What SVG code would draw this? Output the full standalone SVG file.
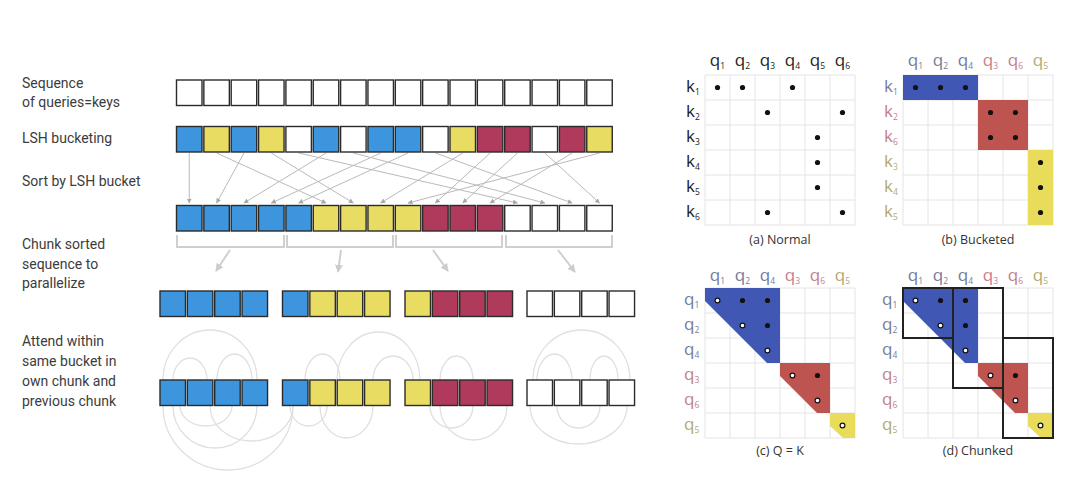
<svg xmlns="http://www.w3.org/2000/svg" width="1080" height="487" viewBox="0 0 1080 487">
<defs>
<style>
.lbl{font-family:Roboto,"Liberation Sans",sans-serif;font-size:14px;fill:#3c3c3c}
.c{stroke:#2b2b2b;stroke-width:1.4}
.B{fill:#3d96dd}.Y{fill:#e8dc62}.R{fill:#b03a5b}.W{fill:#ffffff}
.ln{stroke:#bababa;stroke-width:1;fill:none}
.br{stroke:#cfcfcf;stroke-width:2;fill:none}
.arc{stroke:#e0e0e0;stroke-width:1.3;fill:none}
.grid{stroke:#e4e4e4;stroke-width:1;fill:none}
.mt{font-family:"Open Sans","Liberation Sans",sans-serif;font-size:17px}
.sub{font-size:8.5px}
.cap{font-family:"Open Sans","Liberation Sans",sans-serif;font-size:12.5px;fill:#333;text-anchor:middle}
.hd{text-anchor:middle}
.k{fill:#222}.kb{fill:#737c9a}.kr{fill:#c4808a}.ky{fill:#b3aa70}
.mB{fill:#4058b3}.mR{fill:#bd5450}.mY{fill:#e8dc5a}
.d{fill:#111}.h{fill:#fff;stroke:#111;stroke-width:1.2}
.box{fill:none;stroke:#222;stroke-width:2}
</style>
<marker id="ah" viewBox="0 0 10 10" refX="9" refY="5" markerWidth="5" markerHeight="5" markerUnits="userSpaceOnUse" orient="auto"><path d="M0,0 L10,5 L0,10 z" fill="#a8a8a8"/></marker>
<marker id="ah2" viewBox="0 0 10 10" refX="9" refY="5" markerWidth="8" markerHeight="8" markerUnits="userSpaceOnUse" orient="auto"><path d="M0,0 L10,5 L0,10 z" fill="#cccccc"/></marker>
</defs>
<rect width="1080" height="487" fill="#ffffff"/>

<g id="labels">
<text class="lbl" x="22" y="88">Sequence</text>
<text class="lbl" x="22" y="107">of queries=keys</text>
<text class="lbl" x="22" y="143">LSH bucketing</text>
<text class="lbl" x="22" y="186">Sort by LSH bucket</text>
<text class="lbl" x="22" y="249">Chunk sorted</text>
<text class="lbl" x="22" y="268.5">sequence to</text>
<text class="lbl" x="22" y="288">parallelize</text>
<text class="lbl" x="22" y="346">Attend within</text>
<text class="lbl" x="22" y="366">same bucket in</text>
<text class="lbl" x="22" y="386">own chunk and</text>
<text class="lbl" x="22" y="406">previous chunk</text>
</g>

<g id="connectors">
<g class="ln" marker-end="url(#ah)">
<line x1="189.25" y1="153" x2="189.25" y2="203"/>
<line x1="243.95" y1="153" x2="216.6" y2="203"/>
<line x1="326" y1="153" x2="243.95" y2="203"/>
<line x1="380.7" y1="153" x2="271.3" y2="203"/>
<line x1="408.05" y1="153" x2="298.65" y2="203"/>
<line x1="216.6" y1="153" x2="326" y2="203"/>
<line x1="271.3" y1="153" x2="353.35" y2="203"/>
<line x1="462.75" y1="153" x2="380.7" y2="203"/>
<line x1="599.5" y1="153" x2="408.05" y2="203"/>
<line x1="490.1" y1="153" x2="435.4" y2="203"/>
<line x1="517.45" y1="153" x2="462.75" y2="203"/>
<line x1="572.15" y1="153" x2="490.1" y2="203"/>
<line x1="298.65" y1="153" x2="517.45" y2="203"/>
<line x1="353.35" y1="153" x2="544.8" y2="203"/>
<line x1="435.4" y1="153" x2="572.15" y2="203"/>
<line x1="544.8" y1="153" x2="599.5" y2="203"/>
</g>
<g class="br">
<path d="M177,235 V247 H284 V235"/>
<path d="M287,235 V247 H393 V235"/>
<path d="M396,235 V247 H502 V235"/>
<path d="M506,235 V247 H612 V235"/>
</g>
<g class="br" marker-end="url(#ah2)">
<line x1="230" y1="250" x2="216" y2="271"/>
<line x1="341" y1="250" x2="338" y2="272"/>
<line x1="433" y1="250" x2="448" y2="271"/>
<line x1="558" y1="250" x2="575" y2="272"/>
</g>
<g class="arc">
<path d="M163,380 A47,50 0 0 1 257,380"/>
<path d="M173,380 A17,22 0 0 1 207,380"/>
<path d="M217,380 A17.5,26 0 0 1 252,380"/>
<path d="M337,380 A41.5,48 0 0 1 420,380"/>
<path d="M305,380 A17.5,26 0 0 1 340,380"/>
<path d="M373,380 A20,24 0 0 1 413,380"/>
<path d="M440,380 A16.5,24 0 0 1 473,380"/>
<path d="M533,380 A48.5,50 0 0 1 630,380"/>
<path d="M537,380 A17.5,26 0 0 1 572,380"/>
<path d="M590,380 A14,24 0 0 1 618,380"/>
<path d="M163,406 A65,64 0 0 0 293,406"/>
<path d="M173,406 A42,42 0 0 0 257,406"/>
<path d="M210,406 A41.5,35 0 0 0 293,406"/>
<path d="M180,406 A26,20 0 0 0 232,406"/>
<path d="M320,406 A26.5,32 0 0 0 373,406"/>
<path d="M290,406 A18.5,20 0 0 0 327,406"/>
<path d="M440,406 A33.5,34 0 0 0 507,406"/>
<path d="M430,406 A21.5,22 0 0 0 473,406"/>
<path d="M530,406 A48.5,38 0 0 0 627,406"/>
<path d="M557,406 A21.5,22 0 0 0 600,406"/>
</g>
</g>

<g id="row-sequence">
<rect class="c W" x="176.5" y="80" width="25.5" height="25.5"/>
<rect class="c W" x="203.85" y="80" width="25.5" height="25.5"/>
<rect class="c W" x="231.2" y="80" width="25.5" height="25.5"/>
<rect class="c W" x="258.55" y="80" width="25.5" height="25.5"/>
<rect class="c W" x="285.9" y="80" width="25.5" height="25.5"/>
<rect class="c W" x="313.25" y="80" width="25.5" height="25.5"/>
<rect class="c W" x="340.6" y="80" width="25.5" height="25.5"/>
<rect class="c W" x="367.95" y="80" width="25.5" height="25.5"/>
<rect class="c W" x="395.3" y="80" width="25.5" height="25.5"/>
<rect class="c W" x="422.65" y="80" width="25.5" height="25.5"/>
<rect class="c W" x="450" y="80" width="25.5" height="25.5"/>
<rect class="c W" x="477.35" y="80" width="25.5" height="25.5"/>
<rect class="c W" x="504.7" y="80" width="25.5" height="25.5"/>
<rect class="c W" x="532.05" y="80" width="25.5" height="25.5"/>
<rect class="c W" x="559.4" y="80" width="25.5" height="25.5"/>
<rect class="c W" x="586.75" y="80" width="25.5" height="25.5"/>
</g>

<g id="row-lsh">
<rect class="c B" x="176.5" y="126.5" width="25.5" height="25.5"/>
<rect class="c Y" x="203.85" y="126.5" width="25.5" height="25.5"/>
<rect class="c B" x="231.2" y="126.5" width="25.5" height="25.5"/>
<rect class="c Y" x="258.55" y="126.5" width="25.5" height="25.5"/>
<rect class="c W" x="285.9" y="126.5" width="25.5" height="25.5"/>
<rect class="c B" x="313.25" y="126.5" width="25.5" height="25.5"/>
<rect class="c W" x="340.6" y="126.5" width="25.5" height="25.5"/>
<rect class="c B" x="367.95" y="126.5" width="25.5" height="25.5"/>
<rect class="c B" x="395.3" y="126.5" width="25.5" height="25.5"/>
<rect class="c W" x="422.65" y="126.5" width="25.5" height="25.5"/>
<rect class="c Y" x="450" y="126.5" width="25.5" height="25.5"/>
<rect class="c R" x="477.35" y="126.5" width="25.5" height="25.5"/>
<rect class="c R" x="504.7" y="126.5" width="25.5" height="25.5"/>
<rect class="c W" x="532.05" y="126.5" width="25.5" height="25.5"/>
<rect class="c R" x="559.4" y="126.5" width="25.5" height="25.5"/>
<rect class="c Y" x="586.75" y="126.5" width="25.5" height="25.5"/>
</g>

<g id="row-sorted">
<rect class="c B" x="176.5" y="205.5" width="25.5" height="25.5"/>
<rect class="c B" x="203.85" y="205.5" width="25.5" height="25.5"/>
<rect class="c B" x="231.2" y="205.5" width="25.5" height="25.5"/>
<rect class="c B" x="258.55" y="205.5" width="25.5" height="25.5"/>
<rect class="c B" x="285.9" y="205.5" width="25.5" height="25.5"/>
<rect class="c Y" x="313.25" y="205.5" width="25.5" height="25.5"/>
<rect class="c Y" x="340.6" y="205.5" width="25.5" height="25.5"/>
<rect class="c Y" x="367.95" y="205.5" width="25.5" height="25.5"/>
<rect class="c Y" x="395.3" y="205.5" width="25.5" height="25.5"/>
<rect class="c R" x="422.65" y="205.5" width="25.5" height="25.5"/>
<rect class="c R" x="450" y="205.5" width="25.5" height="25.5"/>
<rect class="c R" x="477.35" y="205.5" width="25.5" height="25.5"/>
<rect class="c W" x="504.7" y="205.5" width="25.5" height="25.5"/>
<rect class="c W" x="532.05" y="205.5" width="25.5" height="25.5"/>
<rect class="c W" x="559.4" y="205.5" width="25.5" height="25.5"/>
<rect class="c W" x="586.75" y="205.5" width="25.5" height="25.5"/>
</g>

<g id="row-chunks">
<rect class="c B" x="160" y="291" width="25.5" height="25.5"/>
<rect class="c B" x="187.35" y="291" width="25.5" height="25.5"/>
<rect class="c B" x="214.7" y="291" width="25.5" height="25.5"/>
<rect class="c B" x="242.05" y="291" width="25.5" height="25.5"/>
<rect class="c B" x="282.5" y="291" width="25.5" height="25.5"/>
<rect class="c Y" x="309.85" y="291" width="25.5" height="25.5"/>
<rect class="c Y" x="337.2" y="291" width="25.5" height="25.5"/>
<rect class="c Y" x="364.55" y="291" width="25.5" height="25.5"/>
<rect class="c Y" x="405" y="291" width="25.5" height="25.5"/>
<rect class="c R" x="432.35" y="291" width="25.5" height="25.5"/>
<rect class="c R" x="459.7" y="291" width="25.5" height="25.5"/>
<rect class="c R" x="487.05" y="291" width="25.5" height="25.5"/>
<rect class="c W" x="527" y="291" width="25.5" height="25.5"/>
<rect class="c W" x="554.35" y="291" width="25.5" height="25.5"/>
<rect class="c W" x="581.7" y="291" width="25.5" height="25.5"/>
<rect class="c W" x="609.05" y="291" width="25.5" height="25.5"/>
</g>

<g id="row-attend">
<rect class="c B" x="160" y="380" width="25.5" height="25.5"/>
<rect class="c B" x="187.35" y="380" width="25.5" height="25.5"/>
<rect class="c B" x="214.7" y="380" width="25.5" height="25.5"/>
<rect class="c B" x="242.05" y="380" width="25.5" height="25.5"/>
<rect class="c B" x="282.5" y="380" width="25.5" height="25.5"/>
<rect class="c Y" x="309.85" y="380" width="25.5" height="25.5"/>
<rect class="c Y" x="337.2" y="380" width="25.5" height="25.5"/>
<rect class="c Y" x="364.55" y="380" width="25.5" height="25.5"/>
<rect class="c Y" x="405" y="380" width="25.5" height="25.5"/>
<rect class="c R" x="432.35" y="380" width="25.5" height="25.5"/>
<rect class="c R" x="459.7" y="380" width="25.5" height="25.5"/>
<rect class="c R" x="487.05" y="380" width="25.5" height="25.5"/>
<rect class="c W" x="527" y="380" width="25.5" height="25.5"/>
<rect class="c W" x="554.35" y="380" width="25.5" height="25.5"/>
<rect class="c W" x="581.7" y="380" width="25.5" height="25.5"/>
<rect class="c W" x="609.05" y="380" width="25.5" height="25.5"/>
</g>

<g id="matrix-a">
<path class="grid" d="M705,75 V225 M730,75 V225 M755,75 V225 M780,75 V225 M805,75 V225 M830,75 V225 M855,75 V225 M705,75 H855 M705,100 H855 M705,125 H855 M705,150 H855 M705,175 H855 M705,200 H855 M705,225 H855"/>
<g class="mt k">
<text class="hd" x="717.5" y="66">q<tspan class="sub" dy="3">1</tspan></text>
<text class="hd" x="742.5" y="66">q<tspan class="sub" dy="3">2</tspan></text>
<text class="hd" x="767.5" y="66">q<tspan class="sub" dy="3">3</tspan></text>
<text class="hd" x="792.5" y="66">q<tspan class="sub" dy="3">4</tspan></text>
<text class="hd" x="817.5" y="66">q<tspan class="sub" dy="3">5</tspan></text>
<text class="hd" x="842.5" y="66">q<tspan class="sub" dy="3">6</tspan></text>
<text x="686" y="92">k<tspan class="sub" dy="3">1</tspan></text>
<text x="686" y="117">k<tspan class="sub" dy="3">2</tspan></text>
<text x="686" y="142">k<tspan class="sub" dy="3">3</tspan></text>
<text x="686" y="167">k<tspan class="sub" dy="3">4</tspan></text>
<text x="686" y="192">k<tspan class="sub" dy="3">5</tspan></text>
<text x="686" y="217">k<tspan class="sub" dy="3">6</tspan></text>
</g>
<g class="d">
<circle cx="717.5" cy="87.5" r="2.6"/><circle cx="742.5" cy="87.5" r="2.6"/><circle cx="792.5" cy="87.5" r="2.6"/>
<circle cx="767.5" cy="112.5" r="2.6"/><circle cx="842.5" cy="112.5" r="2.6"/>
<circle cx="817.5" cy="137.5" r="2.6"/><circle cx="817.5" cy="162.5" r="2.6"/><circle cx="817.5" cy="187.5" r="2.6"/>
<circle cx="767.5" cy="212.5" r="2.6"/><circle cx="842.5" cy="212.5" r="2.6"/>
</g>
<text class="cap" x="780" y="244">(a) Normal</text>
</g>

<g id="matrix-b">
<path class="grid" d="M903,75 V225 M928,75 V225 M953,75 V225 M978,75 V225 M1003,75 V225 M1028,75 V225 M1053,75 V225 M903,75 H1053 M903,100 H1053 M903,125 H1053 M903,150 H1053 M903,175 H1053 M903,200 H1053 M903,225 H1053"/>
<rect class="mB" x="903" y="75" width="75" height="25"/>
<rect class="mR" x="978" y="100" width="50" height="50"/>
<rect class="mY" x="1028" y="150" width="25" height="75"/>
<g class="mt">
<text class="hd kb" x="915.5" y="66">q<tspan class="sub" dy="3">1</tspan></text>
<text class="hd kb" x="940.5" y="66">q<tspan class="sub" dy="3">2</tspan></text>
<text class="hd kb" x="965.5" y="66">q<tspan class="sub" dy="3">4</tspan></text>
<text class="hd kr" x="990.5" y="66">q<tspan class="sub" dy="3">3</tspan></text>
<text class="hd kr" x="1015.5" y="66">q<tspan class="sub" dy="3">6</tspan></text>
<text class="hd ky" x="1040.5" y="66">q<tspan class="sub" dy="3">5</tspan></text>
<text class="kb" x="884" y="92">k<tspan class="sub" dy="3">1</tspan></text>
<text class="kr" x="884" y="117">k<tspan class="sub" dy="3">2</tspan></text>
<text class="kr" x="884" y="142">k<tspan class="sub" dy="3">6</tspan></text>
<text class="ky" x="884" y="167">k<tspan class="sub" dy="3">3</tspan></text>
<text class="ky" x="884" y="192">k<tspan class="sub" dy="3">4</tspan></text>
<text class="ky" x="884" y="217">k<tspan class="sub" dy="3">5</tspan></text>
</g>
<g class="d">
<circle cx="915.5" cy="87.5" r="2.6"/><circle cx="940.5" cy="87.5" r="2.6"/><circle cx="965.5" cy="87.5" r="2.6"/>
<circle cx="990.5" cy="112.5" r="2.6"/><circle cx="1015.5" cy="112.5" r="2.6"/><circle cx="990.5" cy="137.5" r="2.6"/><circle cx="1015.5" cy="137.5" r="2.6"/>
<circle cx="1040.5" cy="162.5" r="2.6"/><circle cx="1040.5" cy="187.5" r="2.6"/><circle cx="1040.5" cy="212.5" r="2.6"/>
</g>
<text class="cap" x="978" y="244">(b) Bucketed</text>
</g>

<g id="matrix-c">
<path class="grid" d="M705,288 V438 M730,288 V438 M755,288 V438 M780,288 V438 M805,288 V438 M830,288 V438 M855,288 V438 M705,288 H855 M705,313 H855 M705,338 H855 M705,363 H855 M705,388 H855 M705,413 H855 M705,438 H855"/>
<polygon class="mB" points="705,288 780,288 780,363 767,363 705,301"/>
<polygon class="mR" points="780,363 830,363 830,413 817,413 780,376"/>
<polygon class="mY" points="830,413 855,413 855,438 843,438 830,426"/>
<g class="mt">
<text class="hd kb" x="717.5" y="281">q<tspan class="sub" dy="3">1</tspan></text>
<text class="hd kb" x="742.5" y="281">q<tspan class="sub" dy="3">2</tspan></text>
<text class="hd kb" x="767.5" y="281">q<tspan class="sub" dy="3">4</tspan></text>
<text class="hd kr" x="792.5" y="281">q<tspan class="sub" dy="3">3</tspan></text>
<text class="hd kr" x="817.5" y="281">q<tspan class="sub" dy="3">6</tspan></text>
<text class="hd ky" x="842.5" y="281">q<tspan class="sub" dy="3">5</tspan></text>
<text class="kb" x="684" y="305">q<tspan class="sub" dy="3">1</tspan></text>
<text class="kb" x="684" y="330">q<tspan class="sub" dy="3">2</tspan></text>
<text class="kb" x="684" y="355">q<tspan class="sub" dy="3">4</tspan></text>
<text class="kr" x="684" y="380">q<tspan class="sub" dy="3">3</tspan></text>
<text class="kr" x="684" y="405">q<tspan class="sub" dy="3">6</tspan></text>
<text class="ky" x="684" y="430">q<tspan class="sub" dy="3">5</tspan></text>
</g>
<circle class="h" cx="717.5" cy="300.5" r="2.4"/>
<circle class="d" cx="742.5" cy="300.5" r="2.6"/>
<circle class="d" cx="767.5" cy="300.5" r="2.6"/>
<circle class="h" cx="742.5" cy="325.5" r="2.4"/>
<circle class="d" cx="767.5" cy="325.5" r="2.6"/>
<circle class="h" cx="767.5" cy="350.5" r="2.4"/>
<circle class="h" cx="792.5" cy="375.5" r="2.4"/>
<circle class="d" cx="817.5" cy="375.5" r="2.6"/>
<circle class="h" cx="817.5" cy="400.5" r="2.4"/>
<circle class="h" cx="842.5" cy="425.5" r="2.4"/>
<text class="cap" x="780" y="455">(c) Q = K</text>
</g>

<g id="matrix-d">
<path class="grid" d="M903,288 V438 M928,288 V438 M953,288 V438 M978,288 V438 M1003,288 V438 M1028,288 V438 M1053,288 V438 M903,288 H1053 M903,313 H1053 M903,338 H1053 M903,363 H1053 M903,388 H1053 M903,413 H1053 M903,438 H1053"/>
<polygon class="mB" points="903,288 978,288 978,363 965,363 903,301"/>
<polygon class="mR" points="978,363 1028,363 1028,413 1015,413 978,376"/>
<polygon class="mY" points="1028,413 1053,413 1053,438 1041,438 1028,426"/>
<g class="mt">
<text class="hd kb" x="915.5" y="281">q<tspan class="sub" dy="3">1</tspan></text>
<text class="hd kb" x="940.5" y="281">q<tspan class="sub" dy="3">2</tspan></text>
<text class="hd kb" x="965.5" y="281">q<tspan class="sub" dy="3">4</tspan></text>
<text class="hd kr" x="990.5" y="281">q<tspan class="sub" dy="3">3</tspan></text>
<text class="hd kr" x="1015.5" y="281">q<tspan class="sub" dy="3">6</tspan></text>
<text class="hd ky" x="1040.5" y="281">q<tspan class="sub" dy="3">5</tspan></text>
<text class="kb" x="882" y="305">q<tspan class="sub" dy="3">1</tspan></text>
<text class="kb" x="882" y="330">q<tspan class="sub" dy="3">2</tspan></text>
<text class="kb" x="882" y="355">q<tspan class="sub" dy="3">4</tspan></text>
<text class="kr" x="882" y="380">q<tspan class="sub" dy="3">3</tspan></text>
<text class="kr" x="882" y="405">q<tspan class="sub" dy="3">6</tspan></text>
<text class="ky" x="882" y="430">q<tspan class="sub" dy="3">5</tspan></text>
</g>
<circle class="h" cx="915.5" cy="300.5" r="2.4"/>
<circle class="d" cx="940.5" cy="300.5" r="2.6"/>
<circle class="d" cx="965.5" cy="300.5" r="2.6"/>
<circle class="h" cx="940.5" cy="325.5" r="2.4"/>
<circle class="d" cx="965.5" cy="325.5" r="2.6"/>
<circle class="h" cx="965.5" cy="350.5" r="2.4"/>
<circle class="h" cx="990.5" cy="375.5" r="2.4"/>
<circle class="d" cx="1015.5" cy="375.5" r="2.6"/>
<circle class="h" cx="1015.5" cy="400.5" r="2.4"/>
<circle class="h" cx="1040.5" cy="425.5" r="2.4"/>
<rect class="box" x="903" y="288" width="50" height="50"/>
<rect class="box" x="953" y="288" width="50" height="100"/>
<rect class="box" x="1003" y="338" width="50" height="100"/>
<text class="cap" x="978" y="455">(d) Chunked</text>
</g>
</svg>
